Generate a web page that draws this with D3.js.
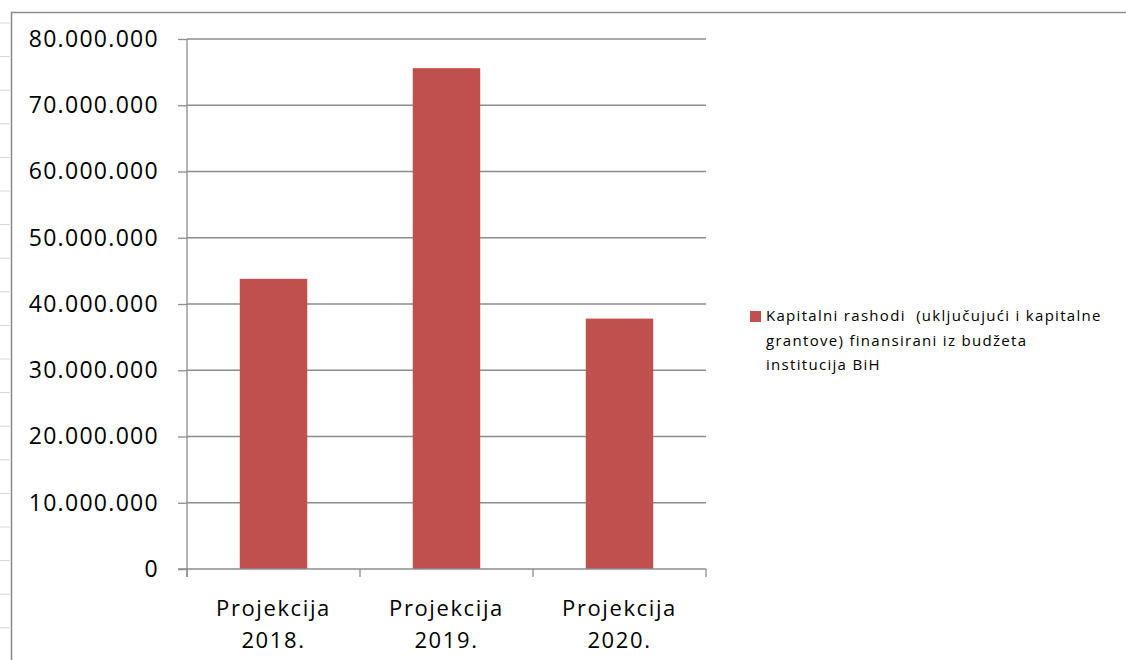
<!DOCTYPE html>
<html>
<head>
<meta charset="utf-8">
<script src="https://cdn.jsdelivr.net/npm/d3@7"></script>
<style>
  body { margin: 0; background: #fff; }
  svg { display: block; font-family: "Open Sans", "Noto Sans", sans-serif; }
</style>
</head>
<body>
<svg id="chart"></svg>
<script>
// Data
const categories = ["Projekcija 2018.", "Projekcija 2019.", "Projekcija 2020."];
const values = [43800000, 75600000, 37800000];
const yTicks = [0, 10000000, 20000000, 30000000, 40000000, 50000000, 60000000, 70000000, 80000000];
const seriesName = ["Kapitalni rashodi  (uključujući i kapitalne", "grantove) finansirani iz budžeta", "institucija BiH"];

const W = 1126, H = 660;
const margin = { top: 39, right: 420, bottom: 91, left: 187 };
const width = W - margin.left - margin.right;
const height = H - margin.top - margin.bottom;

const svg = d3.select("#chart").attr("width", W).attr("height", H);

// spreadsheet row lines peeking out at the left edge
const rowYs = d3.range(23, H, 33.6);
svg.selectAll(".row")
    .data(rowYs)
    .enter().append("line")
    .attr("x1", 0).attr("x2", 10)
    .attr("y1", d => d).attr("y2", d => d)
    .attr("stroke", "#d4d4d4").attr("stroke-width", 1);

// chart frame
svg.append("path")
    .attr("d", `M11.5,${H} V12.5 H${W}`)
    .attr("fill", "none")
    .attr("stroke", "#888").attr("stroke-width", 1.5);

const g = svg.append("g").attr("transform", `translate(${margin.left},${margin.top})`);

const x = d3.scaleBand().domain(categories).range([0, width]).paddingInner(0.61).paddingOuter(0.305);
const y = d3.scaleLinear().domain([0, 80000000]).range([height, 0]);

const fmt = d => d3.format(",")(d).replace(/,/g, ".");

// gridlines
g.selectAll(".grid")
    .data(yTicks.slice(1))
    .enter().append("line")
    .attr("x1", 0).attr("x2", width)
    .attr("y1", d => y(d)).attr("y2", d => y(d))
    .attr("stroke", "#8c8c8c").attr("stroke-width", 1.3);

// bars
g.selectAll(".bar")
    .data(values)
    .enter().append("rect")
    .attr("x", (d, i) => x(categories[i]))
    .attr("width", x.bandwidth())
    .attr("y", d => y(d))
    .attr("height", d => height - y(d))
    .attr("fill", "#c0504d");

// y axis
const yAxis = g.append("g")
    .call(d3.axisLeft(y).tickValues(yTicks).tickFormat(fmt).tickSize(9).tickPadding(19));
yAxis.select(".domain").attr("d", `M0,0V${height + 8}`);
yAxis.selectAll("path, line").attr("stroke", "#8c8c8c").attr("stroke-width", 1.3);
yAxis.selectAll("text").attr("font-size", 23).attr("fill", "#000")
    .attr("font-family", "Open Sans").attr("letter-spacing", 1.3);

// x axis
const xBounds = [0, width / 3, 2 * width / 3, width];
const xAxis = g.append("g").attr("transform", `translate(0,${height})`);
xAxis.append("line").attr("x1", -9).attr("x2", width).attr("y1", 0).attr("y2", 0)
    .attr("stroke", "#8c8c8c").attr("stroke-width", 1.3);
xAxis.selectAll(".xt")
    .data(xBounds)
    .enter().append("line")
    .attr("x1", d => d).attr("x2", d => d).attr("y1", 0).attr("y2", 8)
    .attr("stroke", "#8c8c8c").attr("stroke-width", 1.3);
const xl = xAxis.selectAll(".xl")
    .data(categories)
    .enter().append("text")
    .attr("x", d => x(d) + x.bandwidth() / 2)
    .attr("text-anchor", "middle")
    .attr("font-size", 22).attr("letter-spacing", 1.6).attr("fill", "#000");
xl.append("tspan").attr("x", d => x(d) + x.bandwidth() / 2).attr("y", 47).text(d => d.split(" ")[0]);
xl.append("tspan").attr("x", d => x(d) + x.bandwidth() / 2).attr("y", 79).text(d => d.split(" ")[1]);

// legend
const leg = svg.append("g").attr("transform", "translate(750,311)");
leg.append("rect").attr("width", 11).attr("height", 11).attr("fill", "#c0504d");
leg.selectAll("text")
    .data(seriesName)
    .enter().append("text")
    .attr("x", 16).attr("y", (d, i) => 10 + i * 24.5)
    .attr("font-size", 15).attr("letter-spacing", 1.3)
    .style("white-space", "pre").attr("fill", "#000")
    .text(d => d);
</script>
</body>
</html>
